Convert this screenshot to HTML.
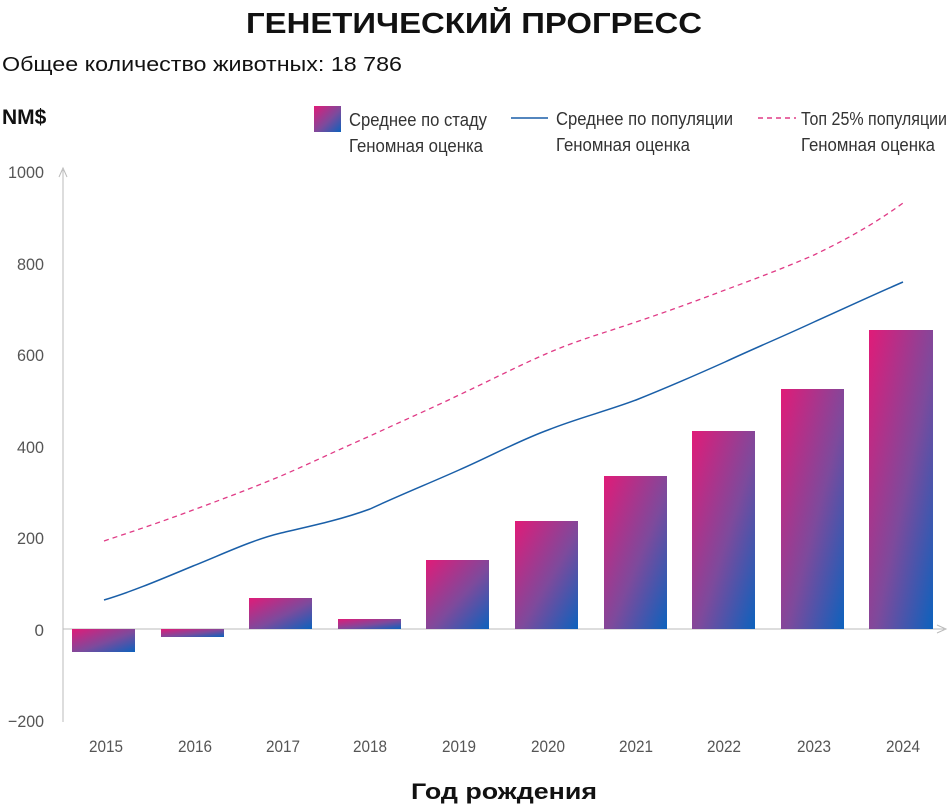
<!DOCTYPE html>
<html><head><meta charset="utf-8"><style>
body{margin:0;background:#fff;}
svg text{font-family:"Liberation Sans",sans-serif;}
</style></head><body>
<svg width="948" height="806" viewBox="0 0 948 806" xmlns="http://www.w3.org/2000/svg">
<defs>
<linearGradient id="g" x1="0" y1="0" x2="1" y2="1">
<stop offset="0" stop-color="#e01b78"/><stop offset="0.55" stop-color="#7d4a9c"/><stop offset="1" stop-color="#0c62bd"/>
</linearGradient>
</defs>
<text x="474" y="33" text-anchor="middle" font-size="29" font-weight="bold" fill="#111" textLength="456" lengthAdjust="spacingAndGlyphs">ГЕНЕТИЧЕСКИЙ ПРОГРЕСС</text>
<text x="2" y="71" font-size="20" fill="#111" textLength="400" lengthAdjust="spacingAndGlyphs">Общее количество животных: 18 786</text>
<text x="2" y="124" font-size="21" font-weight="bold" fill="#111">NM$</text>
<rect x="314" y="106" width="27" height="26" fill="url(#g)"/>
<g font-size="18" fill="#333">
<text x="349" y="126" textLength="138" lengthAdjust="spacingAndGlyphs">Среднее по стаду</text>
<text x="349" y="152" textLength="134" lengthAdjust="spacingAndGlyphs">Геномная оценка</text>
<text x="556" y="125" textLength="177" lengthAdjust="spacingAndGlyphs">Среднее по популяции</text>
<text x="556" y="151" textLength="134" lengthAdjust="spacingAndGlyphs">Геномная оценка</text>
<text x="801" y="125" textLength="146" lengthAdjust="spacingAndGlyphs">Топ 25% популяции</text>
<text x="801" y="151" textLength="134" lengthAdjust="spacingAndGlyphs">Геномная оценка</text>
</g>
<line x1="511" y1="118" x2="548" y2="118" stroke="#1a5fa8" stroke-width="1.5"/>
<line x1="758" y1="118" x2="796" y2="118" stroke="#e03b86" stroke-width="1.5" stroke-dasharray="5,4"/>
<line x1="63" y1="170" x2="63" y2="722" stroke="#bbb" stroke-width="1"/>
<path d="M59,177 L63,168 L67,177" fill="none" stroke="#bbb"/>
<line x1="63" y1="629" x2="944" y2="629" stroke="#bbb" stroke-width="1"/>
<path d="M937,625 L946,629 L937,633" fill="none" stroke="#bbb"/>
<g font-size="17" fill="#555" text-anchor="end">
<text x="44" y="178" textLength="36" lengthAdjust="spacingAndGlyphs">1000</text>
<text x="44" y="270" textLength="27" lengthAdjust="spacingAndGlyphs">800</text>
<text x="44" y="361" textLength="27" lengthAdjust="spacingAndGlyphs">600</text>
<text x="44" y="453" textLength="27" lengthAdjust="spacingAndGlyphs">400</text>
<text x="44" y="544" textLength="27" lengthAdjust="spacingAndGlyphs">200</text>
<text x="44" y="636">0</text>
<text x="44" y="727" textLength="36" lengthAdjust="spacingAndGlyphs">−200</text>
</g>
<g>
<rect x="72" y="629" width="63" height="23" fill="url(#g)"/>
<rect x="161" y="629" width="63" height="8" fill="url(#g)"/>
<rect x="249" y="598" width="63" height="31" fill="url(#g)"/>
<rect x="338" y="619" width="63" height="10" fill="url(#g)"/>
<rect x="426" y="560" width="63" height="69" fill="url(#g)"/>
<rect x="515" y="521" width="63" height="108" fill="url(#g)"/>
<rect x="604" y="476" width="63" height="153" fill="url(#g)"/>
<rect x="692" y="431" width="63" height="198" fill="url(#g)"/>
<rect x="781" y="389" width="63" height="240" fill="url(#g)"/>
<rect x="869" y="330" width="64" height="299" fill="url(#g)"/>
</g>
<path d="M104,600 C134,591 164,578 193,566 C223,554 252,540 281,533 C311,526 340,520 370,509 C400,495 430,483 459,470 C489,457 518,441 548,430 C578,418 607,411 636,400 C666,388 696,375 725,362 C755,348 784,336 814,322 C843,309 873,295 903,282" fill="none" stroke="#1a5fa8" stroke-width="1.5"/>
<path d="M104,541 C134,531 164,521 193,510 C223,499 252,488 281,476 C311,463 340,449 370,436 C400,422 430,409 459,395 C489,381 518,366 548,353 C578,340 607,332 636,322 C666,312 696,301 725,290 C755,279 784,268 814,255 C843,241 873,225 903,203" fill="none" stroke="#e03b86" stroke-width="1.3" stroke-dasharray="5,4"/>
<g font-size="17" fill="#555" text-anchor="middle">
<text x="106" y="752" textLength="34" lengthAdjust="spacingAndGlyphs">2015</text>
<text x="195" y="752" textLength="34" lengthAdjust="spacingAndGlyphs">2016</text>
<text x="283" y="752" textLength="34" lengthAdjust="spacingAndGlyphs">2017</text>
<text x="370" y="752" textLength="34" lengthAdjust="spacingAndGlyphs">2018</text>
<text x="459" y="752" textLength="34" lengthAdjust="spacingAndGlyphs">2019</text>
<text x="548" y="752" textLength="34" lengthAdjust="spacingAndGlyphs">2020</text>
<text x="636" y="752" textLength="34" lengthAdjust="spacingAndGlyphs">2021</text>
<text x="724" y="752" textLength="34" lengthAdjust="spacingAndGlyphs">2022</text>
<text x="814" y="752" textLength="34" lengthAdjust="spacingAndGlyphs">2023</text>
<text x="903" y="752" textLength="34" lengthAdjust="spacingAndGlyphs">2024</text>
</g>
<text x="504" y="799" text-anchor="middle" font-size="22" font-weight="bold" fill="#111" textLength="186" lengthAdjust="spacingAndGlyphs">Год рождения</text>
</svg>
</body></html>
